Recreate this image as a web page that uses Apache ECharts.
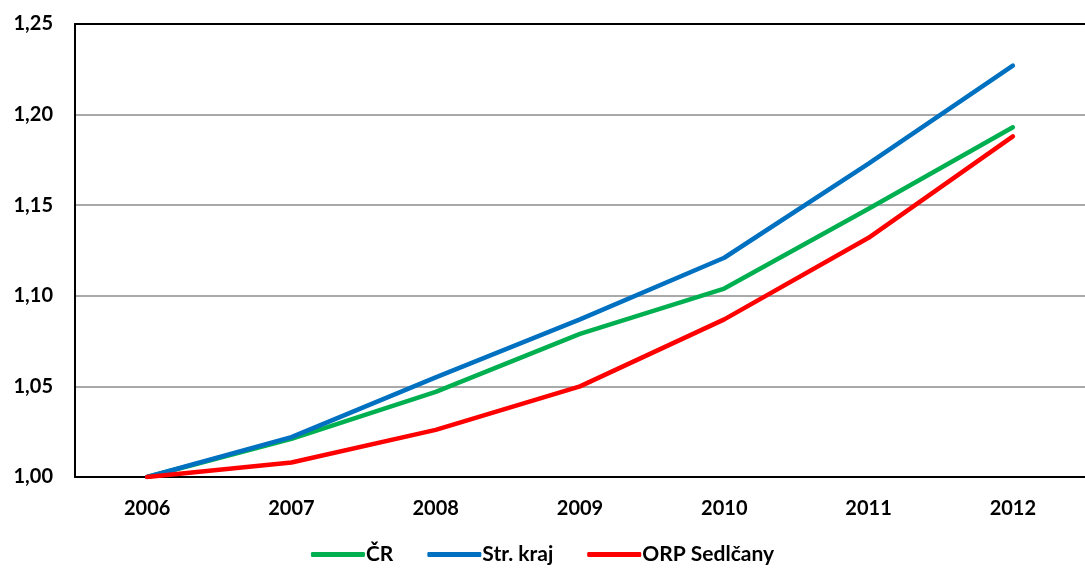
<!DOCTYPE html>
<html><head><meta charset="utf-8">
<script src="https://cdn.jsdelivr.net/npm/echarts@6/dist/echarts.min.js"></script>
<style>html,body{margin:0;padding:0;background:#fff}#c{width:1085px;height:572px}</style>
</head><body><div id="c"></div>
<script>
const years = ['2006','2007','2008','2009','2010','2011','2012'];
const cr = [1.000, 1.021, 1.047, 1.079, 1.104, 1.148, 1.193];
const strKraj = [1.000, 1.022, 1.055, 1.087, 1.121, 1.173, 1.227];
const orp = [1.000, 1.008, 1.026, 1.050, 1.087, 1.132, 1.188];
const names = ['ČR', 'Str. kraj', 'ORP Sedlčany'];
const colors = ['#00B050', '#0070C0', '#FF0000'];
const font = 'Lato';
const chart = echarts.init(document.getElementById('c'));
const mk = (name, data, color) => ({
  name, type: 'line', data, symbol: 'none', smooth: false,
  lineStyle: { width: 4.5, color, cap: 'round' }, itemStyle: { color }
});
chart.setOption({
  animation: false,
  textStyle: { fontFamily: font },
  grid: { left: 75, right: -12, top: 24, bottom: 95, containLabel: false },
  legend: {
    bottom: 2, left: 'center', itemWidth: 54, itemHeight: 5, itemGap: 34,
    icon: 'roundRect',
    textStyle: { fontFamily: font, fontWeight: 'bold', fontSize: 21, color: '#000', padding: [0,0,0,-4] },
    data: names
  },
  xAxis: [{
    type: 'category', data: years, boundaryGap: true,
    axisLine: { lineStyle: { color: '#000', width: 2 } },
    axisTick: { show: false },
    axisLabel: { fontFamily: font, fontWeight: 'bold', fontSize: 20, color: '#000', margin: 22 }
  }, {
    type: 'category', data: years, position: 'top', boundaryGap: true,
    axisLine: { lineStyle: { color: '#000', width: 2 } },
    axisTick: { show: false }, axisLabel: { show: false }
  }],
  yAxis: {
    type: 'value', min: 1.0, max: 1.25, interval: 0.05,
    axisLine: { show: true, lineStyle: { color: '#000', width: 2 } },
    axisTick: { show: false },
    splitLine: { lineStyle: { color: '#8c8c8c', width: 1.5 } },
    axisLabel: { fontFamily: font, fontWeight: 'bold', fontSize: 20, color: '#000', margin: 22,
      formatter: v => v.toFixed(2).replace('.', ',') }
  },
  series: [mk(names[0], cr, colors[0]), mk(names[1], strKraj, colors[1]), mk(names[2], orp, colors[2])]
});
</script></body></html>
